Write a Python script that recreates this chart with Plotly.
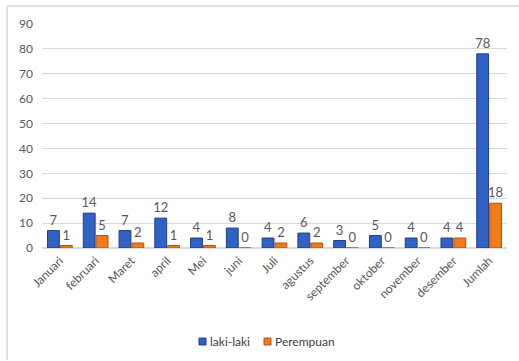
import plotly.graph_objects as go

categories = ["Januari", "februari", "Maret", "april", "Mei", "juni", "Juli",
              "agustus", "september", "oktober", "november", "desember", "Jumlah"]
laki_laki = [7, 14, 7, 12, 4, 8, 4, 6, 3, 5, 4, 4, 78]
perempuan = [1, 5, 2, 1, 1, 0, 2, 2, 0, 0, 0, 4, 18]
y_ticks = [0, 10, 20, 30, 40, 50, 60, 70, 80, 90]
series_names = ["laki-laki", "Perempuan"]
series_colors = ["#2f62c4", "#f07b1a"]
series_edges = ["#1d3f8c", "#b4540c"]

FONT = "Lato, sans-serif"
GRAY = "#595959"

fig = go.Figure()
for name, vals, col, edge in zip(series_names, [laki_laki, perempuan], series_colors, series_edges):
    fig.add_trace(go.Bar(
        x=categories, y=vals, name=name,
        marker=dict(color=col, line=dict(color=edge, width=1)),
        text=[str(v) for v in vals], textposition="outside", cliponaxis=False,
        constraintext="none",
        textfont=dict(color=GRAY, size=13, family=FONT),
        showlegend=False,
    ))

# legend drawn as shapes + text (compact, like the original)
legend_x = [(199 - 42) / 465, (264 - 42) / 465]
shapes = [
    dict(type="line", xref="paper", yref="paper", x0=-0.075, x1=-0.075, y0=1.08, y1=-0.5,
         line=dict(color="#d9d9d9", width=1.5)),
    dict(type="line", xref="paper", yref="paper", x0=-0.075, x1=1.03, y0=1.08, y1=1.08,
         line=dict(color="#d9d9d9", width=1.5)),
]
annotations = []
for lx, name, col, edge in zip(legend_x, series_names, series_colors, series_edges):
    shapes.append(dict(type="rect", xref="paper", yref="paper",
                       x0=lx, x1=lx + 7 / 465, y0=-0.433, y1=-0.402,
                       fillcolor=col, line=dict(color=edge, width=1)))
    annotations.append(dict(xref="paper", yref="paper", x=lx + 9 / 465, y=-0.418,
                            xanchor="left", yanchor="middle", showarrow=False,
                            text=name, font=dict(size=12, color="#404040", family=FONT)))

fig.update_layout(
    width=519, height=361,
    margin=dict(l=42, r=12, t=24, b=113, autoexpand=False),
    paper_bgcolor="white", plot_bgcolor="white",
    barmode="group", bargap=0.28, bargroupgap=0.08,
    font=dict(family=FONT, color=GRAY, size=11),
    showlegend=False,
    xaxis=dict(tickangle=-45, tickfont=dict(size=12, color=GRAY, family=FONT),
               showgrid=False, showline=True, linecolor="#d9d9d9", ticks="",
               automargin=False),
    yaxis=dict(range=[0, 90], tickvals=y_ticks, showgrid=True, gridcolor="#d9d9d9",
               gridwidth=1, zeroline=True, zerolinecolor="#d9d9d9", ticks="",
               tickfont=dict(size=12, color=GRAY, family=FONT), automargin=False),
    shapes=shapes,
    annotations=annotations,
)
fig.update_yaxes(ticklabelstandoff=8)

fig.write_html("out.html")
